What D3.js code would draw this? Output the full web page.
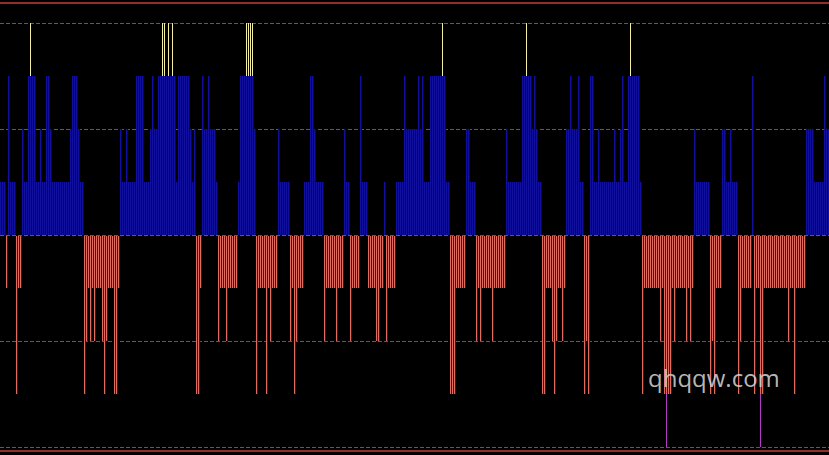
<!DOCTYPE html>
<html><head><meta charset="utf-8">
<script src="https://cdn.jsdelivr.net/npm/d3@7/dist/d3.min.js"></script>
<style>html,body{margin:0;padding:0;background:#000;overflow:hidden}svg{display:block}</style>
</head><body>
<svg id="chart" width="829" height="455"></svg>
<script>
// Signal level per bar (-4 .. 4), read left to right
const values = [
 1, 1, 1,-1, 3, 1, 1, 1,-3,-1, -1, 2, 1, 1, 3, 4, 3, 3, 1, 1,
 2, 1, 1, 3, 3, 2, 1, 1, 1, 1, 1, 1, 1, 1, 1, 2, 3, 3, 3, 2,
 1, 1,-3,-2,-1,-2,-1,-2,-1,-1, -1,-2,-3,-2,-1,-1,-1,-3,-3,-1,
 2, 1, 1, 2, 1, 1, 1, 1, 3, 3, 3, 3, 1, 1, 1, 2, 3, 2, 2, 3,
 3, 4, 4, 3, 4, 3, 4, 3, 1, 3, 3, 3, 3, 3, 3, 2, 1, 2,-3,-3,
-1, 3, 2, 2, 3, 2, 2, 2, 1,-2, -1,-1,-1,-2,-1,-1,-1,-1,-1, 1,
 3, 3, 3, 4, 4, 4, 4, 2,-3,-1, -1,-1,-1,-3,-1,-2,-1,-1,-1, 2,
 1, 1, 1, 1, 1,-2,-1,-3,-2,-1, -1,-1, 1, 1, 1, 3, 3, 2, 1, 1,
 1, 1,-2,-1,-1,-1,-1,-1,-2,-1, -1,-1, 2, 1, 1,-2,-1,-1,-1,-1,
 3, 1, 1, 1,-1,-1,-1,-1,-2,-2, -1,-1, 1,-2,-1,-1,-1,-1, 1, 1,
 1, 1, 3, 2, 2, 2, 2, 2, 2, 3,  2, 3, 1, 1, 1, 3, 3, 3, 3, 3,
 3, 4, 3, 1, 1,-3,-3,-3,-1,-1, -1,-1,-1, 2, 2, 1, 1, 1,-2,-1,
-2,-1,-1,-1,-1,-1,-2,-1,-1,-1, -1,-1,-1, 2, 1, 1, 1, 1, 1, 1,
 1, 3, 3, 4, 3, 3, 2, 3, 2, 1,  1,-3,-3,-1,-1,-1,-2,-3,-2,-1,
-1,-2,-1, 2, 2, 3, 2, 2, 2, 3,  1, 1,-3,-2,-3, 3, 3, 1, 1, 2,
 1, 1, 1, 1, 1, 1, 1, 2, 1, 1,  2, 3, 1, 1, 3, 4, 3, 3, 3, 3,
 1,-3,-1,-1,-1,-1,-1,-1,-1,-1, -2,-1,-3,-4,-3,-3,-1,-2,-1,-1,
-1,-1,-1,-2,-1,-2,-1, 2, 1, 1,  1, 1, 1, 1, 1,-3,-2,-3,-1,-1,
-1, 2, 2, 1, 1, 2, 1, 1, 1,-3, -2,-1,-1,-1,-1,-1, 3,-3,-1,-1,
-4,-3,-1,-1,-1,-1,-1,-1,-1,-1, -1,-1,-1,-1,-2,-1,-1,-3,-1,-1,
-1,-1,-1, 2, 2, 2, 2, 1, 1, 1,  1, 1, 3, 2, 2
];
const gridLevels = [4, 2, 0, -2, -4];
const watermarkText = "qhqqw.com";

const W = 829, H = 455;
const svg = d3.select("#chart");
svg.append("rect").attr("width", W).attr("height", H).attr("fill", "#000");

const x = d3.scaleBand().domain(d3.range(values.length)).range([0, values.length * 2]).padding(0);
const y = d3.scaleLinear().domain([-4, 4]).range([446.7, 22.5]);

// frame lines
svg.append("rect").attr("x", 0).attr("y", 2).attr("width", W).attr("height", 2).attr("fill", "#962c2c");
svg.append("rect").attr("x", 0).attr("y", 450).attr("width", W).attr("height", 2).attr("fill", "#962c2c");

// dashed grid
svg.append("g").attr("shape-rendering", "crispEdges").selectAll("line").data(gridLevels).join("line")
  .attr("x1", 0).attr("x2", W)
  .attr("y1", d => Math.round(y(d)) + 0.5).attr("y2", d => Math.round(y(d)) + 0.5)
  .attr("stroke", "#cc2c2c").attr("stroke-width", 1).attr("stroke-dasharray", "4,2");

const g = svg.append("g").attr("shape-rendering", "crispEdges");
const y0 = Math.round(y(0));
const Y = v => Math.round(y(v));

const pos = values.map((v, i) => ({v, i})).filter(d => d.v > 0);
const neg = values.map((v, i) => ({v, i})).filter(d => d.v < 0);

// blue (positive, up to level 3)
g.append("g").selectAll("rect").data(pos).join("rect")
  .attr("x", d => x(d.i)).attr("width", x.bandwidth())
  .attr("y", d => Y(Math.min(d.v, 3))).attr("height", d => y0 - Y(Math.min(d.v, 3)))
  .attr("fill", "#060662");
g.append("g").selectAll("rect").data(pos).join("rect")
  .attr("x", d => x(d.i)).attr("width", 1)
  .attr("y", d => Y(Math.min(d.v, 3))).attr("height", d => y0 - Y(Math.min(d.v, 3)))
  .attr("fill", "#10109c");
// yellow tips (level 4)
g.append("g").selectAll("rect").data(pos.filter(d => d.v >= 4)).join("rect")
  .attr("x", d => x(d.i)).attr("width", 1)
  .attr("y", Y(4)).attr("height", Y(3) - Y(4))
  .attr("fill", "#f4eea0");

// red (negative, down to level -3)
g.append("g").selectAll("rect").data(neg).join("rect")
  .attr("x", d => x(d.i) + 1).attr("width", 1)
  .attr("y", y0 + 1).attr("height", d => Y(Math.max(d.v, -3)) - y0 - 1)
  .attr("fill", "#4a1412");
g.append("g").selectAll("rect").data(neg).join("rect")
  .attr("x", d => x(d.i)).attr("width", 1)
  .attr("y", y0 + 1).attr("height", d => Y(Math.max(d.v, -3)) - y0 - 1)
  .attr("fill", "#de6c60");
// magenta tips (level -4)
g.append("g").selectAll("rect").data(neg.filter(d => d.v <= -4)).join("rect")
  .attr("x", d => x(d.i)).attr("width", 1)
  .attr("y", Y(-3)).attr("height", Y(-4) - Y(-3))
  .attr("fill", "#b23cc0");

// watermark
svg.append("text").attr("x", 648).attr("y", 387)
  .attr("font-family", "'Open Sans', sans-serif").attr("font-size", 24)
  .attr("fill", "#cfcfcf").attr("fill-opacity", 0.9)
  .text(watermarkText);
</script>
</body></html>
